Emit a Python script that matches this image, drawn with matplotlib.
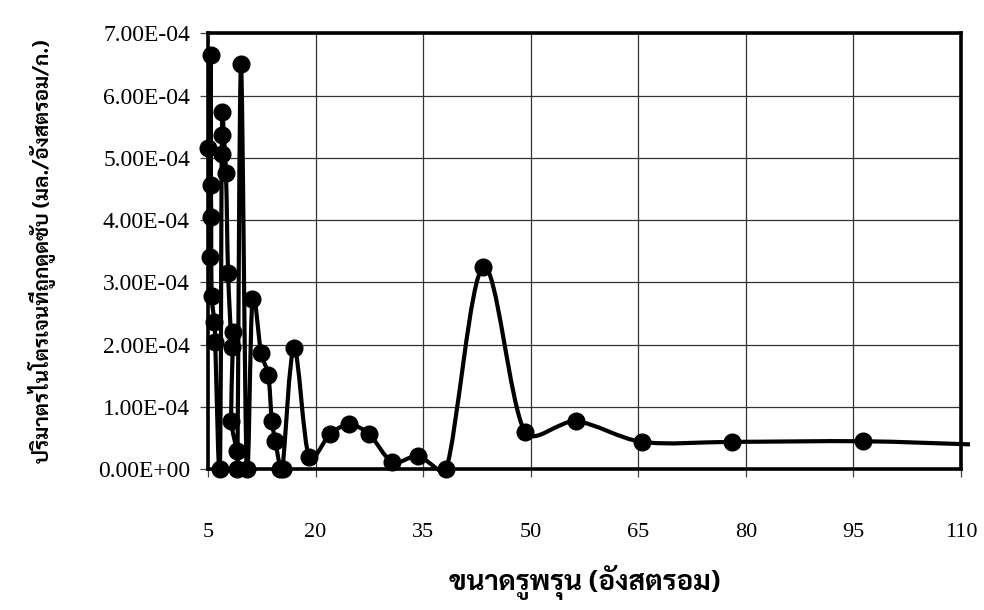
import matplotlib
matplotlib.use("Agg")
import numpy as np
import matplotlib.pyplot as plt
from matplotlib import font_manager
from matplotlib.path import Path
from matplotlib.patches import PathPatch, Rectangle
from matplotlib.ticker import FuncFormatter


# pore size (angstrom) and adsorbed nitrogen volume (ml/angstrom/g)
pore_size = [5.0, 5.3, 5.37, 5.4, 5.45, 5.5, 5.9, 6.0, 6.65, 6.9, 6.95, 7.0,
             7.5, 7.8, 8.3, 8.5, 8.25, 9.0, 9.1, 9.6, 10.4, 11.2, 12.4, 13.4,
             13.9, 14.4, 15.1, 15.4, 17.0, 19.1, 22.0, 24.7, 27.5, 30.7, 34.3,
             38.2, 43.4, 49.2, 56.3, 65.5, 78.0, 96.4, 111.2]
n2_volume = [5.16e-4, 3.41e-4, 6.65e-4, 4.57e-4, 4.05e-4, 2.78e-4, 2.36e-4,
             2.05e-4, 0.0, 5.07e-4, 5.37e-4, 5.74e-4, 4.75e-4, 3.15e-4, 1.97e-4,
             2.2e-4, 0.78e-4, 0.29e-4, 0.0, 6.5e-4, 0.0, 2.74e-4, 1.86e-4,
             1.52e-4, 0.77e-4, 0.45e-4, 0.0, 0.0, 1.95e-4, 0.19e-4, 0.56e-4,
             0.72e-4, 0.56e-4, 0.12e-4, 0.21e-4, 0.0, 3.25e-4, 0.6e-4, 0.77e-4,
             0.44e-4, 0.44e-4, 0.45e-4, 0.4e-4]

x_ticks = [5, 20, 35, 50, 65, 80, 95, 110]
y_ticks = [0, 1e-4, 2e-4, 3e-4, 4e-4, 5e-4, 6e-4, 7e-4]

x_label = "ขนาดรูพรุน (อังสตรอม)"
y_label = "ปริมาตรไนโตรเจนที่ถูกดูดซับ (มล./อังสตรอม/ก.)"


def pick_font(names):
    have = {f.name for f in font_manager.fontManager.ttflist}
    for n in names:
        if n in have:
            return n
    return "DejaVu Sans"


thai_font = pick_font(["Sarabun", "Noto Serif Thai", "Noto Sans Thai Looped",
                       "Noto Sans Thai", "Athiti"])
num_font = "Liberation Serif"


def smooth_path(xs, ys, cap=0.33):
    # Excel-like smoothed line: cubic bezier through every point,
    # control arms capped relative to the segment so it doesn't overshoot
    p = np.column_stack([xs, ys])
    n = len(p)
    verts = [p[0]]
    codes = [Path.MOVETO]
    for i in range(n - 1):
        seg = np.hypot(*(p[i + 1] - p[i]))
        p0 = p[i - 1] if i > 0 else p[i]
        p3 = p[i + 2] if i + 2 < n else p[i + 1]
        a1 = (p[i + 1] - p0) / 6
        a2 = (p3 - p[i]) / 6
        for a in (a1, a2):
            L = np.hypot(*a)
            if L > cap * seg and L > 0:
                a *= cap * seg / L
        verts += [p[i] + a1, p[i + 1] - a2, p[i + 1]]
        codes += [Path.CURVE4] * 3
    return Path(verts, codes)


fig = plt.figure(figsize=(9.84, 6.1), dpi=100)
ax = fig.add_axes([0.2114, 0.2307, 0.7652, 0.7147])

ax.set_xlim(5, 110)
ax.set_ylim(0, 7e-4)

# bezier built in pixel-like space (plot area is about 753 x 436 px)
sx = 753.0 / 105
sy = 436.0 / 7e-4
path = smooth_path(np.array(pore_size) * sx, np.array(n2_volume) * sy)
path = Path(path.vertices / [sx, sy], path.codes)
line = PathPatch(path, facecolor="none", edgecolor="black", lw=3.0,
                 joinstyle="round", capstyle="round", zorder=3)
ax.add_patch(line)
# the line runs a little past the right border, as in the original
clip = Rectangle((0, -0.008), 1.012, 1.008, transform=ax.transAxes,
                 facecolor="none", edgecolor="none")
line.set_clip_path(clip)

xs = np.array(pore_size)
ys = np.array(n2_volume)
inside = xs <= 110
ax.plot(xs[inside], ys[inside], linestyle="none", marker="o", markersize=12,
        color="black", zorder=4, clip_on=False)

ax.set_xticks(x_ticks)
ax.set_yticks(y_ticks)
ax.yaxis.set_major_formatter(FuncFormatter(
    lambda v, pos: "0.00E+00" if v == 0 else "%.2E" % v))
ax.grid(True, color="#333333", linewidth=0.9)
ax.set_axisbelow(True)
for s in ax.spines.values():
    s.set_linewidth(2.6)
    s.set_color("black")
ax.tick_params(axis="both", direction="out", length=6, width=0.9,
               color="#444444")
ax.tick_params(axis="x", pad=33)
ax.tick_params(axis="y", pad=7)
for lab in ax.get_xticklabels():
    lab.set_fontfamily(num_font)
    lab.set_fontsize(16)
for lab in ax.get_yticklabels():
    lab.set_fontfamily(num_font)
    lab.set_fontsize(17)

ax.set_xlabel(x_label, fontfamily=thai_font, fontweight="bold", fontsize=20,
              labelpad=16)
ax.set_ylabel(y_label, fontfamily=thai_font, fontweight="bold", fontsize=15,
              labelpad=30)

fig.savefig("out.png", dpi=100)
